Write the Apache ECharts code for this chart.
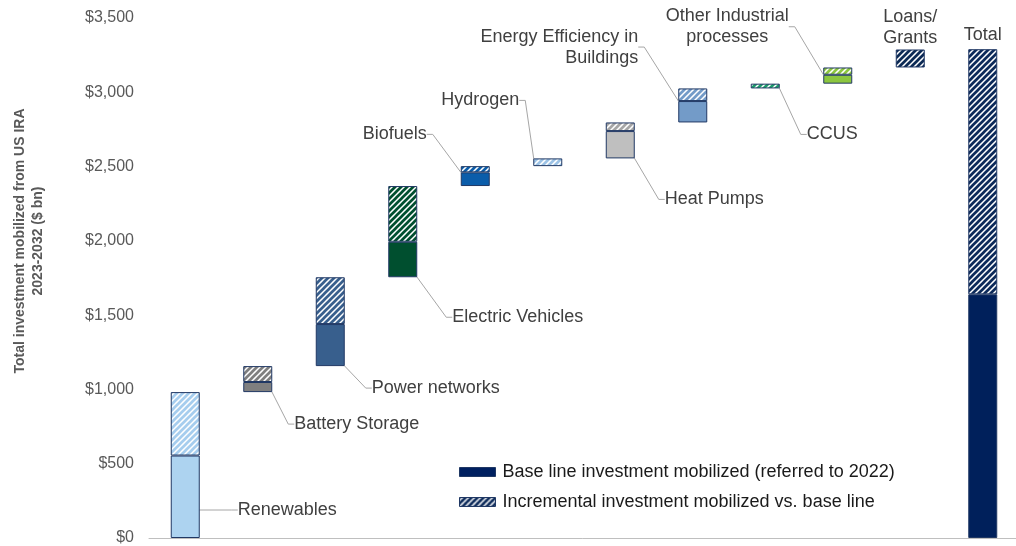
<!DOCTYPE html>
<html>
<head>
<meta charset="utf-8">
<title>US IRA investment waterfall</title>
<script src="https://cdn.jsdelivr.net/npm/echarts@6/dist/echarts.min.js"></script>
<style>
  html, body { margin: 0; padding: 0; background: #fff; }
  #chart { width: 1016px; height: 546px; }
</style>
</head>
<body>
<div id="chart"></div>
<script>
// data ($ bn, 2023-2032)
var categories = ['Renewables', 'Battery Storage', 'Power networks', 'Electric Vehicles', 'Biofuels', 'Hydrogen',
  'Heat Pumps', 'Energy Efficiency in\nBuildings', 'CCUS', 'Other Industrial\nprocesses', 'Loans/\nGrants', 'Total']
var baseline = [555, 68, 283, 239, 92, 0, 184, 144, 0, 60, 0, 1640]
var incremental = [427, 107, 315, 375, 42, 52, 58, 85, 32, 49, 121, 1650]
var baseName = 'Base line investment mobilized (referred to 2022)'
var incrName = 'Incremental investment mobilized vs. base line'

// colours per category
var baseColors = ['#add3f0', '#7f7f7f', '#385f8d', '#004f2f', '#0b5daa', '#9dc3e6',
  '#bfbfbf', '#739bc8', '#1a9c6a', '#8cc63f', '#0c2a55', '#00205b']
var hatchColors = ['#a6cdee', '#7f7f7f', '#385f8d', '#004f2f', '#0b5daa', '#9dc3e6',
  '#a6a6a6', '#739bc8', '#1a9c6a', '#8cc63f', '#0c2a55', '#0c2a5a']

// callout placement: which stacked part the label hangs on and where it sits
var callouts = [
  { host: 'base', side: 'right', gx: 38, gy: -28 },
  { host: 'base', side: 'right', gx: 22, gy: 32 },
  { host: 'base', side: 'right', gx: 27, gy: 22 },
  { host: 'base', side: 'right', gx: 35, gy: 40 },
  { host: 'base', side: 'left', gx: 34, gy: -38 },
  { host: 'incr', side: 'left', gx: 14, gy: -58 },
  { host: 'base', side: 'right', gx: 30, gy: 41 },
  { host: 'base', side: 'left', gx: 40, gy: -54 },
  { host: 'incr', side: 'right', gx: 27, gy: 46 },
  { host: 'base', side: 'leftc', gx: 96, gy: -48 },
  { host: 'incr', side: 'top', gy: -22, noLine: true },
  { host: 'incr', side: 'top', gy: -14, noLine: true }
]

var FONT = '"Liberation Sans", Arial, sans-serif'
var BORDER = '#203864'

function hatch(color) {
  var p = 6
  var c = document.createElement('canvas')
  c.width = p
  c.height = p
  var ctx = c.getContext('2d')
  ctx.fillStyle = '#ffffff'
  ctx.fillRect(0, 0, p, p)
  ctx.strokeStyle = color
  ctx.lineWidth = 2.7
  ctx.beginPath()
  ctx.moveTo(-1, p + 1); ctx.lineTo(p + 1, -1)
  ctx.moveTo(-1, 1); ctx.lineTo(1, -1)
  ctx.moveTo(p - 1, p + 1); ctx.lineTo(p + 1, p - 1)
  ctx.stroke()
  return { image: c, repeat: 'repeat' }
}

// waterfall offsets: each category starts where the previous one ended, the total starts at 0
var offsets = []
var running = 0
for (var i = 0; i < categories.length; i++) {
  if (i === categories.length - 1) {
    offsets.push(0)
  } else {
    offsets.push(running)
    running += baseline[i] + incremental[i]
  }
}

function itemFor(values, colors, host, pattern) {
  return values.map(function (v, i) {
    var c = callouts[i]
    return {
      value: v === 0 ? '-' : v,
      itemStyle: { color: pattern ? hatch(colors[i]) : colors[i] },
      label: { show: c.host === host },
      labelLine: { show: c.host === host && !c.noLine }
    }
  })
}

function layoutFor(host) {
  return function (p) {
    var c = callouts[p.dataIndex]
    if (!c || c.host !== host) return {}
    var r = p.rect
    if (c.side === 'right') {
      return { x: r.x + r.width + c.gx, y: r.y + r.height + c.gy, align: 'left', verticalAlign: 'middle' }
    }
    if (c.side === 'left') {
      return { x: r.x - c.gx, y: r.y + c.gy, align: 'right', verticalAlign: 'middle' }
    }
    if (c.side === 'leftc') {
      return { x: r.x - c.gx, y: r.y + c.gy, align: 'center', verticalAlign: 'middle' }
    }
    return { x: r.x + r.width / 2, y: r.y + c.gy, align: 'center', verticalAlign: 'middle' }
  }
}

var labelStyle = {
  show: false,
  formatter: '{b}',
  color: '#404040',
  fontSize: 18,
  fontFamily: FONT,
  lineHeight: 21
}
var lineStyle = {
  show: true,
  length2: 6,
  lineStyle: { color: '#a6a6a6', width: 1 }
}

var chart = echarts.init(document.getElementById('chart'), null, { renderer: 'canvas' })
chart.setOption({
  animation: false,
  backgroundColor: '#ffffff',
  textStyle: { fontFamily: FONT },
  grid: { left: 149, top: 18, width: 870, height: 520, containLabel: false, outerBoundsMode: 'none' },
  legend: {
    orient: 'vertical',
    left: 454,
    top: 457,
    itemWidth: 36,
    itemHeight: 9,
    itemGap: 10,
    selectedMode: false,
    textStyle: { fontSize: 18, color: '#1a1a1a', fontFamily: FONT, lineHeight: 20, padding: [0, 0, 0, 2] },
    data: [
      { name: baseName, icon: 'rect', itemStyle: { color: '#002060', borderColor: BORDER, borderWidth: 1 } },
      { name: incrName, icon: 'rect', itemStyle: { color: hatch('#0c2a5a'), borderColor: BORDER, borderWidth: 1 } }
    ]
  },
  xAxis: {
    type: 'category',
    data: categories,
    axisLine: { lineStyle: { color: '#bfbfbf', width: 1 } },
    axisTick: { show: false },
    axisLabel: { show: false }
  },
  yAxis: {
    type: 'value',
    min: 0,
    max: 3500,
    interval: 500,
    axisLine: { show: false },
    axisTick: { show: false },
    splitLine: { show: false },
    axisLabel: {
      margin: 15,
      color: '#595959',
      fontSize: 16,
      fontFamily: FONT,
      formatter: function (v) { return '$' + v.toLocaleString('en-US') }
    }
  },
  graphic: [{
    type: 'text',
    x: 29,
    y: 241,
    rotation: Math.PI / 2,
    style: {
      text: 'Total investment mobilized from US IRA\n2023-2032 ($ bn)',
      font: 'bold 14px ' + FONT,
      fill: '#595959',
      align: 'center',
      verticalAlign: 'middle',
      lineHeight: 18
    }
  }],
  series: [
    {
      type: 'bar',
      stack: 'w',
      barWidth: 29,
      silent: true,
      itemStyle: { color: 'rgba(0,0,0,0)', borderWidth: 0 },
      emphasis: { disabled: true },
      data: offsets
    },
    {
      name: baseName,
      type: 'bar',
      stack: 'w',
      barWidth: 29,
      itemStyle: { color: '#002060', borderColor: BORDER, borderWidth: 1 },
      emphasis: { disabled: true },
      label: labelStyle,
      labelLine: lineStyle,
      labelLayout: layoutFor('base'),
      data: itemFor(baseline, baseColors, 'base', false)
    },
    {
      name: incrName,
      type: 'bar',
      stack: 'w',
      barWidth: 29,
      itemStyle: { color: hatch('#0c2a5a'), borderColor: BORDER, borderWidth: 1 },
      emphasis: { disabled: true },
      label: labelStyle,
      labelLine: lineStyle,
      labelLayout: layoutFor('incr'),
      data: itemFor(incremental, hatchColors, 'incr', true)
    }
  ]
})
</script>
</body>
</html>
